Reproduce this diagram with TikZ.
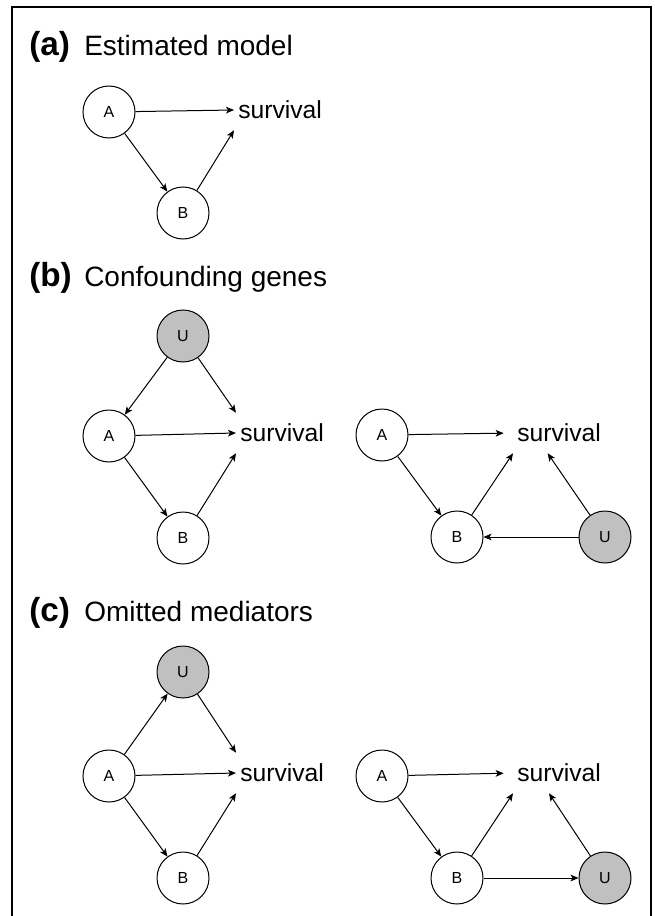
\documentclass[tikz,border=0pt]{standalone}
\usepackage{fontspec}
\setmainfont{Liberation Sans}
\usetikzlibrary{arrows.meta}
\definecolor{hiddenGray}{RGB}{192, 192, 192}

\begin{document}
\begin{tikzpicture}[x=0.75pt, y=-0.75pt,
  gene/.style={draw, circle, line width=0.75pt, minimum size=39pt, inner sep=0pt, font=\fontsize{12}{14}\selectfont},
  hidden/.style={gene, fill=hiddenGray},
  outcome/.style={anchor=west, inner xsep=3pt, inner ysep=0pt, minimum height=30pt, font=\fontsize{18.5}{22}\selectfont},
  panel/.style={anchor=base west, inner sep=0pt, font=\fontsize{25}{30}\selectfont\bfseries},
  caption/.style={anchor=base west, inner sep=0pt, font=\fontsize{21}{25}\selectfont},
  link/.style={-{Stealth[length=6pt, width=5pt, inset=1.5pt]}, line width=0.75pt}]
\fill[white] (0,0) rectangle (654,916);
\useasboundingbox (0,0) rectangle (654,916);
% Frame
\draw[line width=1.5pt] (11.5,916) -- (11.5,7.5) -- (650.5,7.5) -- (650.5,916);

% (a) Estimated model
\node[panel] (labA) at (29,56) {(a)};
\node[caption] (capA) at (84,56) {Estimated model};
\node[gene] (aA) at (109,112) {A};
\node[gene] (aB) at (183,213) {B};
\node[outcome] (aS) at (234,110) {survival};
\draw[link] (aA) -- (aS.west);
\draw[link] (aA) -- (aB);
\draw[link] (aB) -- (aS.south west);

% (b) Confounding genes
\node[panel] (labB) at (29,286) {(b)};
\node[caption] (capB) at (84,286) {Confounding genes};
% left
\node[hidden] (bU) at (183,336) {U};
\node[gene] (bA) at (109,436) {A};
\node[gene] (bB) at (183,538) {B};
\node[outcome] (bS) at (236,433) {survival};
\draw[link] (bU) -- (bA);
\draw[link] (bU) -- (bS.north west);
\draw[link] (bA) -- (bS.west);
\draw[link] (bA) -- (bB);
\draw[link] (bB) -- (bS.south west);
% right
\node[gene] (bA2) at (382,435) {A};
\node[gene] (bB2) at (457,537) {B};
\node[hidden] (bU2) at (605,537) {U};
\node[outcome] (bS2) at (513,433) {survival};
\draw[link, shorten >=7pt] (bA2) -- (bS2.west);
\draw[link] (bA2) -- (bB2);
\draw[link] (bB2) -- (bS2.south west);
\draw[link] (bU2) -- ([xshift=26pt]bS2.south west);
\draw[link] (bU2) -- (bB2);

% (c) Omitted mediators
\node[panel] (labC) at (29,621) {(c)};
\node[caption] (capC) at (84,621) {Omitted mediators};
% left
\node[hidden] (cU) at (183,672) {U};
\node[gene] (cA) at (109,776) {A};
\node[gene] (cB) at (183,878) {B};
\node[outcome] (cS) at (236,773) {survival};
\draw[link] (cA) -- (cU);
\draw[link] (cU) -- (cS.north west);
\draw[link] (cA) -- (cS.west);
\draw[link] (cA) -- (cB);
\draw[link] (cB) -- (cS.south west);
% right
\node[gene] (cA2) at (382,776) {A};
\node[gene] (cB2) at (457,878) {B};
\node[hidden] (cU2) at (605,878) {U};
\node[outcome] (cS2) at (513,773) {survival};
\draw[link, shorten >=7pt] (cA2) -- (cS2.west);
\draw[link] (cA2) -- (cB2);
\draw[link] (cB2) -- (cS2.south west);
\draw[link] (cB2) -- (cU2);
\draw[link] (cU2) -- ([xshift=27pt]cS2.south west);
\end{tikzpicture}
\end{document}
